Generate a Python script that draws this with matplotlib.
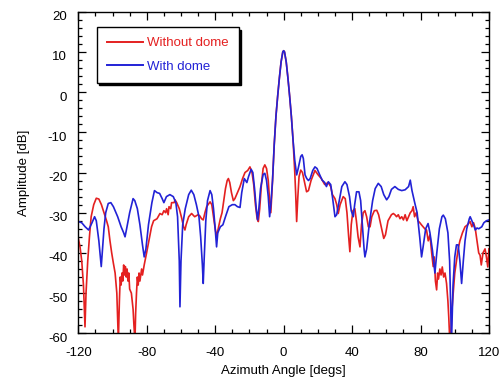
import matplotlib
matplotlib.use("Agg")
import matplotlib.pyplot as plt
import matplotlib.transforms as mtransforms
from matplotlib.lines import Line2D
from matplotlib.ticker import MultipleLocator

plt.rcParams['font.family'] = ['Liberation Sans', 'DejaVu Sans']
plt.rcParams['axes.unicode_minus'] = False

# Main beam (shared by both measurements)
beam_ang = [-6.5, -5.5, -4.5, -3.5, -2.5, -1.5, -0.5, 0, 0.5, 1.5, 2.5, 3.5, 4.5, 5.5]
beam_amp = [-22, -13, -6, -1, 3.5, 7.5, 10, 10.3, 10, 7.5, 3.5, -1, -6, -12]

# Without dome (red)
red_left_ang = [-120, -119, -118, -117, -116.1, -115.5, -114.5, -113.5, -112.5, -111, -109.5, -108, -106.5,
                -105, -103.5, -102.5, -101.5, -100.5, -99.5, -98.5, -97.5, -96.6, -96, -95.5, -95, -94.5,
                -94, -93.5, -93, -92.5, -92, -91.5, -91, -90.5, -90, -89, -88, -87.5, -86.9, -86.5, -86,
                -85.5, -85, -84.5, -84, -83, -82.5, -81.5, -80.1, -79, -77.2, -76, -74, -72.3, -71, -70,
                -69, -68.4, -67.5, -67, -66, -65.5, -64, -63.5, -62.5, -61, -59.5, -58.5, -57.7, -57,
                -55.5, -53.8, -52, -50, -49, -48, -47, -46, -45, -43, -42, -41, -40, -39.2, -38.5, -37,
                -36, -35, -34, -33, -32.3, -31.5, -30.5, -29.4, -28.5, -27, -25.5, -24, -22.6, -21,
                -19.7, -18.5, -17.5, -16.5, -15.5, -14.8, -14, -13, -12, -11, -10, -9, -8.2, -7.5]
red_left_amp = [-36.4, -38.5, -42, -48, -58.4, -50, -42, -36, -31, -28, -26.4, -26.6, -28,
                -30, -32, -33.5, -37, -40, -42.6, -45, -50, -62, -52, -46, -48, -45,
                -47, -43, -45.5, -43.4, -46, -44, -47, -45, -49, -50, -54, -58, -62, -55, -50,
                -46, -48, -45, -47, -44, -45.5, -43, -40, -37.5, -33.5, -32, -31.5, -30.2, -30.5, -29.5,
                -30, -29, -30.5, -28.5, -29, -27.5, -27.5, -26.8, -27.5, -29, -31.5, -33.5, -34.3, -33,
                -31, -30.2, -31, -30.5, -30.8, -31.5, -31.8, -30, -28.5, -27.3, -28, -31, -34, -36, -34.5, -31.5,
                -30, -27, -24, -22, -21.5, -22.5, -25, -27, -26.5, -25, -23.5, -21.5, -20, -19.5,
                -18.6, -20, -23, -28, -31.5, -32.2, -29, -23, -19, -18.1, -19, -22, -27, -30]
red_right_ang = [6.5, 7, 7.6, 8.3, 9, 10, 11, 12, 13.4, 14.5, 16, 18.3, 20, 22, 24, 26, 27.5, 28.5, 30, 31,
                 31.9, 33, 34.8, 36, 37, 38, 38.7, 39.5, 40.5, 41.6, 42.5, 43.5, 44.6, 45.5, 46.5, 47.5,
                 48.5, 49.5, 50.5, 51.5, 53, 54.4, 55.5, 57, 58.5, 59.5, 61, 63, 64.1, 65, 66, 67, 68, 69,
                 70, 71, 72, 73, 74, 75, 75.7, 76.5, 77.5, 78.5, 79.6, 80.5, 81.5, 82.5, 83.5, 84.5, 85.5,
                 86.5, 87.4, 88, 88.7, 89.4, 90, 90.5, 91.3, 92, 92.7, 93.5, 94.3, 95.2, 96, 96.5, 97.1,
                 97.6, 98.2, 99.1, 100, 101, 102, 103, 104.5, 106, 107.5, 109, 110, 111, 112, 113, 114,
                 114.8, 115.5, 116.5, 117.7, 118.5, 119.3, 120]
red_right_amp = [-20, -25, -32.2, -26, -21, -19.4, -20, -22, -24.8, -24.5, -22, -19.5, -20.5, -21.5, -23,
                 -22.5, -23.5, -25.5, -26.5, -28, -30.2, -28, -26, -26.5, -30, -36, -39.7, -33, -29.5, -29,
                 -32, -36, -38.5, -33, -30, -29.5, -31, -33.5, -33.5, -31, -29.5, -29.4, -30.5, -33.5,
                 -36.4, -35.5, -32, -30.5, -30.2, -30.5, -31, -30.5, -31.5, -31, -31.8, -30.5, -32, -31,
                 -30, -29.5, -28.5, -31, -30, -32, -32.5, -33, -33.5, -34, -34.3, -37, -35.5, -40, -43.4,
                 -41, -47, -49.2, -45, -46.5, -44, -45.5, -43.5, -46, -45, -47.6, -52, -56, -62, -62, -55,
                 -50, -45, -42, -39, -37, -35, -33.5, -33, -32.2, -33.5, -32.5, -34, -37, -40, -40.6, -43,
                 -40, -39, -41, -43.5, -39]

# With dome (blue)
blue_left_ang = [-120, -118, -116, -114, -112, -110.5, -109.5, -108, -107, -106.6, -106, -105, -104, -102.5,
                 -101, -99.5, -97, -95, -93.5, -92.7, -92, -90, -88, -87, -85.5, -84, -82.5, -81.5, -80.5,
                 -79, -77, -75.5, -74, -72.5, -71, -70, -68.5, -66.5, -64.5, -63, -62, -61, -60.6, -60,
                 -59, -57.5, -55.5, -54, -52.5, -51, -49.5, -48.5, -47.5, -47, -46.5, -45.5, -44.5, -43,
                 -42, -41, -40, -39.2, -38.5, -37, -35.5, -34, -32, -30, -28.5, -27, -25.5, -24.5, -23,
                 -21.5, -20.5, -19, -18, -17, -16, -15.2, -14.5, -13.5, -12, -11, -10, -9, -8.2, -7.5]
blue_left_amp = [-32.2, -32.5, -33.5, -34.3, -32.5, -31, -32, -37, -41.5, -43.4, -40, -34, -30, -27.7,
                 -27.5, -28.5, -31, -33.5, -35, -36, -34.5, -30, -26.5, -27, -29, -33, -38, -41, -39,
                 -33, -27.5, -24.5, -25, -25.2, -26.5, -27.5, -26, -25.5, -26, -27.5, -31, -42, -53.4, -42,
                 -33, -29, -25.5, -24.4, -25.5, -28, -31, -36, -43, -47.6, -42, -32, -27, -24.5,
                 -25.5, -29, -34, -38.5, -35, -33.5, -33, -31, -28.5, -28, -28, -28.5, -28.7, -25, -21.5,
                 -22.5, -21, -19.2, -20, -24, -29, -31.8, -29, -24, -20.5, -20.2, -22, -26, -31, -28]
blue_right_ang = [6.5, 7.6, 8.5, 10, 10.8, 11.5, 12.5, 13.5, 14.5, 15.5, 17, 18.3, 19.5, 21, 22.5, 24, 25,
                  26.1, 27.5, 28.5, 30, 31, 32.5, 34, 35.8, 37, 38.5, 39.5, 40.7, 41.5, 42.6, 44, 45, 46,
                  47, 47.5, 48.5, 50, 52, 53.5, 55.3, 57, 58.5, 60.2, 61.5, 63, 65, 67, 69, 71, 73, 74,
                  75, 76.7, 78, 79.5, 80.6, 81.5, 83, 84.4, 85.5, 87, 88.4, 89.5, 91, 92.5, 93.3, 94.5,
                  96, 97, 98.1, 99, 100, 101, 102, 103, 104, 105, 106, 107, 108.5, 109, 110, 111, 112,
                  113, 114, 115.8, 117, 118.5, 120]
blue_right_amp = [-17, -20.6, -19, -16, -15.6, -16.5, -20.6, -21.5, -22, -21.5, -19.5, -18.6, -19, -20.5,
                  -21.9, -22.5, -23.5, -22.3, -23, -26, -31, -30.5, -27, -23.5, -22.3, -23, -26, -29.5,
                  -31, -28, -24.8, -24.8, -27, -33, -39, -41, -39, -33, -27, -24, -22.7, -23.5, -25.5,
                  -26.8, -26, -24.2, -23.5, -24.2, -24.5, -24.3, -23.5, -21.9, -24.5, -27.7, -30, -36,
                  -41, -38.5, -34, -32.7, -35, -39.5, -45, -40, -34, -31, -30.6, -31.5, -35, -42, -62,
                  -48, -41, -38, -38, -42, -47.6, -42, -37, -34, -31.5, -31, -32, -33, -34.3, -33.8, -34,
                  -33.5, -32.5, -32, -31.8]

red_ang = red_left_ang + beam_ang + red_right_ang
red_amp = red_left_amp + beam_amp + red_right_amp
blue_ang = blue_left_ang + beam_ang + blue_right_ang
blue_amp = blue_left_amp + beam_amp + blue_right_amp

RED = '#e42020'
BLUE = '#2222d6'

fig = plt.figure(figsize=(5.04, 3.8), dpi=100)
ax = fig.add_axes([0.1554, 0.1229, 0.8148, 0.8463])

ax.plot(red_ang, red_amp, color=RED, lw=1.2)
ax.plot(blue_ang, blue_amp, color=BLUE, lw=1.2)

ax.set_xlim(-120, 120)
ax.set_ylim(-60, 20)
ax.xaxis.set_major_locator(MultipleLocator(40))
ax.xaxis.set_minor_locator(MultipleLocator(10))
ax.yaxis.set_major_locator(MultipleLocator(10))
ax.yaxis.set_minor_locator(MultipleLocator(2))
ax.tick_params(which='both', direction='in', top=True, right=True, labelsize=9.5, width=0.9)
ax.tick_params(which='major', length=5.5)
ax.tick_params(which='minor', length=2.8)
ax.tick_params(axis='x', which='major', pad=10)
ax.tick_params(axis='y', which='major', pad=8)
for s in ax.spines.values():
    s.set_linewidth(1.0)

# y tick labels sit slightly below their ticks in the reference
shift = mtransforms.ScaledTranslation(0, -4 / 100, fig.dpi_scale_trans)
for lab in ax.get_yticklabels():
    lab.set_transform(lab.get_transform() + shift)

ax.set_xlabel('Azimuth Angle [degs]', fontsize=9.5, labelpad=4)
ax.set_ylabel('Amplitude [dB]', fontsize=9.5, labelpad=13)

handles = [Line2D([], [], color=RED, lw=1.4), Line2D([], [], color=BLUE, lw=1.4)]
leg = ax.legend(handles, ['Without dome', 'With dome'], loc='upper left',
                bbox_to_anchor=(0.0448, 0.952), fontsize=9.5, frameon=True, fancybox=False,
                shadow={'facecolor': 'black', 'edgecolor': 'black', 'alpha': 1},
                edgecolor='black', handlelength=2.75, handletextpad=0.32, borderpad=0.75,
                labelspacing=0.85, borderaxespad=0)
leg.get_frame().set_linewidth(1.0)
for t, c in zip(leg.get_texts(), [RED, BLUE]):
    t.set_color(c)

fig.savefig('out.png', dpi=100)
